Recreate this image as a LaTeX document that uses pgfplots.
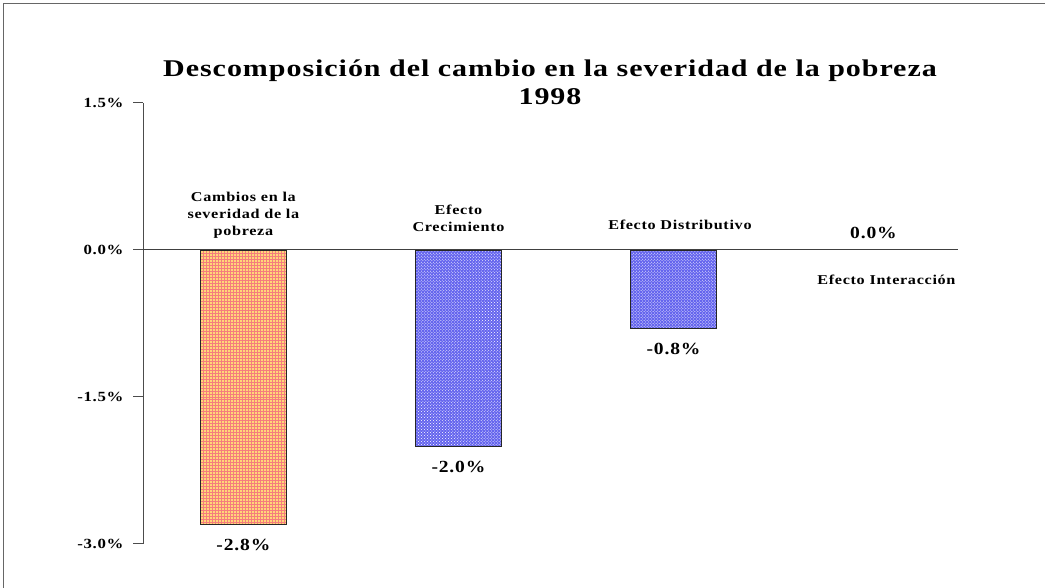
\documentclass[border=0pt]{standalone}
\usepackage{fontspec}
\setmainfont{Liberation Serif}
\newfontfamily\lbl[FakeStretch=1.2, LetterSpace=5]{Liberation Serif}
\newfontfamily\vlbl[FakeStretch=1.15, LetterSpace=5]{Liberation Serif}
\newfontfamily\ttl[FakeStretch=1.25, LetterSpace=4]{Liberation Serif}
\usepackage{pgfplots}
\pgfplotsset{compat=1.18}
\usetikzlibrary{patterns}
\definecolor{peach}{RGB}{255,215,120}
\definecolor{gridred}{RGB}{245,125,125}
\definecolor{barblue}{RGB}{100,100,238}
\begin{document}
\begin{tikzpicture}[x=1bp,y=1bp]
\useasboundingbox (0,0) rectangle (1045,588);
\fill[white] (0,0) rectangle (1045,588);
\draw[black!60, line width=1bp] (3,0) -- (3,584) -- (1045,584);
\begin{axis}[
  at={(143bp,44bp)}, anchor=south west,
  scale only axis, width=815bp, height=441bp,
  xmin=-0.467, xmax=3.323, ymin=-3, ymax=1.5,
  axis x line=none, axis y line=left,
  y axis line style={-, black!70, line width=1bp},
  ytick={-3,-1.5,0,1.5},
  yticklabels={-3.0\%,-1.5\%,0.0\%,1.5\%},
  tick align=outside, major tick length=10bp,
  ytick style={black!70, line width=1bp},
  yticklabel style={font=\lbl\bfseries\fontsize{14bp}{16bp}\selectfont, xshift=-6bp},
  clip=false,
]
\addplot[ybar, bar width=86bp, bar shift=0pt, draw=black!85, fill=peach,
  postaction={pattern=grid, pattern color=gridred}] coordinates {(0,-2.8)};
\addplot[ybar, bar width=86bp, bar shift=0pt, draw=black!85, fill=barblue,
  postaction={pattern=crosshatch dots, pattern color=white}] coordinates {(1,-2.0) (2,-0.8)};
\addplot[ybar, bar width=86bp, bar shift=0pt, draw=none, fill=none] coordinates {(3,0.0)};
\draw[black!75, line width=1bp] (axis cs:-0.467,0) -- (axis cs:3.323,0);
% category labels
\node[font=\lbl\bfseries\fontsize{13.5bp}{17bp}\selectfont, align=center, anchor=south] at (axis cs:0,0.08) {Cambios en la\\severidad de la\\pobreza};
\node[font=\lbl\bfseries\fontsize{13.5bp}{17bp}\selectfont, align=center, anchor=south] at (axis cs:1,0.15) {Efecto\\Crecimiento};
\node[font=\lbl\bfseries\fontsize{13.5bp}{17bp}\selectfont, align=center] at (axis cs:2.03,0.26) {Efecto Distributivo};
\node[font=\lbl\bfseries\fontsize{13.5bp}{17bp}\selectfont, align=center] at (axis cs:2.99,-0.30) {Efecto Interacción};
% value labels
\node[font=\vlbl\bfseries\fontsize{17bp}{19bp}\selectfont] at (axis cs:0,-3.01) {-2.8\%};
\node[font=\vlbl\bfseries\fontsize{17bp}{19bp}\selectfont] at (axis cs:1,-2.21) {-2.0\%};
\node[font=\vlbl\bfseries\fontsize{17bp}{19bp}\selectfont] at (axis cs:2,-1.01) {-0.8\%};
\node[font=\vlbl\bfseries\fontsize{17bp}{19bp}\selectfont] at (axis cs:2.93,0.17) {0.0\%};
\end{axis}
\node[font=\ttl\bfseries\fontsize{24bp}{28bp}\selectfont, align=center] at (550,506) {Descomposición del cambio en la severidad de la pobreza\\1998};
\end{tikzpicture}
\end{document}
